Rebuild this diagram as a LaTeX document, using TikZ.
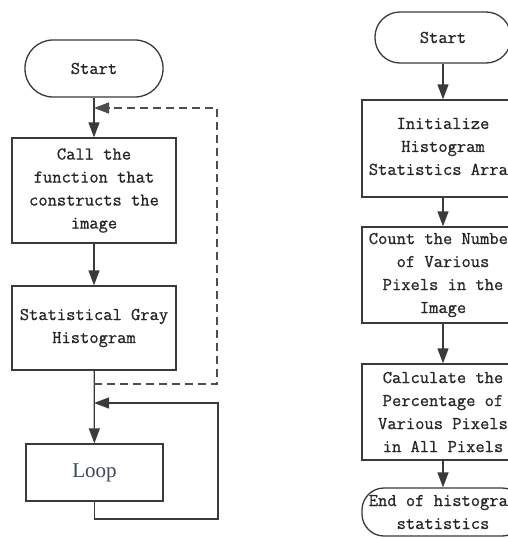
\documentclass[tikz,border=0pt]{standalone}
\usepackage{fontspec}
\newfontfamily\loopfont{Liberation Serif}
\newfontfamily\boxfont[FakeBold=0.8]{Latin Modern Mono}
\usetikzlibrary{arrows.meta}
\definecolor{ln}{HTML}{3A3A3A}
\definecolor{tx}{HTML}{262626}
\begin{document}
\begin{tikzpicture}[x={(1pt,0)},y={(0,-1pt)},
  every node/.style={font=\boxfont\fontsize{18}{23}\selectfont, text=tx, align=center, inner sep=2pt},
  procbox/.style={draw=ln, line width=1.3pt, minimum width=164pt},
  term/.style={draw=ln, line width=1.3pt, rounded corners=25pt},
  arr/.style={draw=ln, line width=1.3pt, -{Triangle[width=11pt,length=15pt]}},
  dsh/.style={draw=ln!90, line width=1.5pt, dash pattern=on 8pt off 5pt, -{Triangle[width=11pt,length=15pt]}}]
\useasboundingbox (0,0) rectangle (508,538);
\clip (0,0) rectangle (508,538);
\fill[white] (0,0) rectangle (508,538);
% left flow
\node[term, minimum width=138pt, minimum height=57pt, rounded corners=28pt] (s1) at (94,68.5) {Start};
\node[procbox, minimum height=105pt] (b1) at (94,190.5) {Call the\\function that\\constructs the\\image};
\node[procbox, minimum height=84pt] (b2) at (94,328) {Statistical Gray\\Histogram};
\node[draw=ln, line width=1.3pt, minimum width=137pt, minimum height=57pt, font=\loopfont\fontsize{21}{24}\selectfont, text={rgb,255:red,60;green,72;blue,88}] (lp) at (94.5,472.5) {Loop};
\coordinate (j1) at (94,108);
\coordinate (j2) at (94,384);
\coordinate (j3) at (94,403);
\coordinate (dc) at (217,384);
\coordinate (lc) at (218,519);
\draw[arr] (s1) -- (b1);
\draw[arr] (b1) -- (b2);
\draw[arr] (b2) -- (lp);
\draw[dsh] (j2) -- (dc) |- (j1);
\draw[arr] (lp.south) |- (lc) |- (j3);
% right flow
\node[term, minimum width=136pt, minimum height=51pt] (s2) at (443,37.5) {Start};
\node[procbox, minimum width=162pt, minimum height=97pt] (r1) at (443,148.5) {Initialize\\Histogram\\Statistics Array};
\node[procbox, minimum width=162pt, minimum height=96pt] (r2) at (443,275) {Count the Number\\of Various\\Pixels in the\\Image};
\node[procbox, minimum width=162pt, minimum height=96pt] (r3) at (443,412) {Calculate the\\Percentage of\\Various Pixels\\in All Pixels};
\node[term, minimum width=162pt, minimum height=48pt, rounded corners=22pt] (e2) at (443,512) {End of histogram\\statistics};
\draw[arr] (s2) -- (r1);
\draw[arr] (r1) -- (r2);
\draw[arr] (r2) -- (r3);
\draw[arr] (r3) -- (e2);
\end{tikzpicture}
\end{document}
